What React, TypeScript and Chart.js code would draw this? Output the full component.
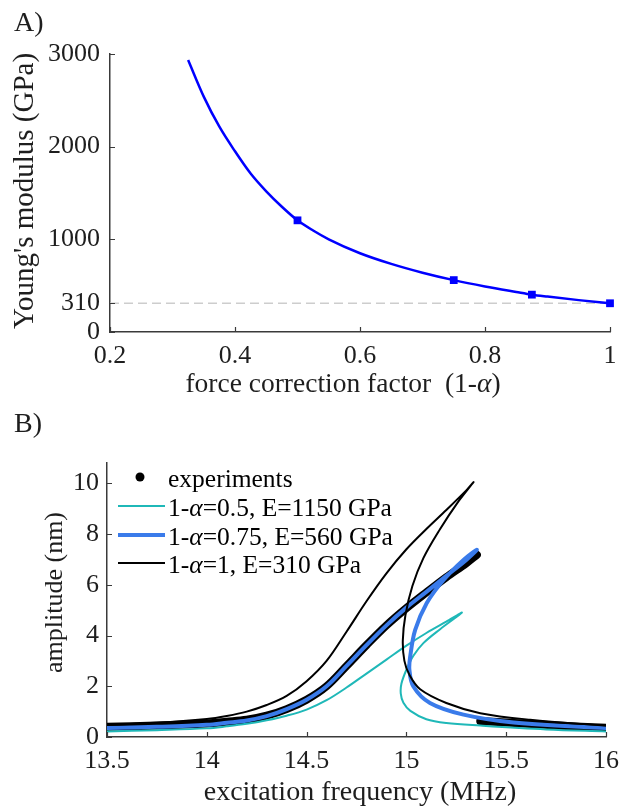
import React, { useEffect, useRef } from "react";
import { Chart, registerables } from "chart.js";

Chart.register(...registerables);

const FONT = '"Liberation Serif", "Times New Roman", serif';
const AXIS = "#3a3a3a";
const TXT = "#1e1e1e";

// ---------- Panel A data ----------
const factorCurve = [0.325, 0.35, 0.375, 0.4, 0.425, 0.45, 0.475, 0.5, 0.525, 0.55, 0.6, 0.65, 0.7, 0.75, 0.8, 0.85, 0.875, 0.9, 0.95, 1.0];
const modulusCurve = [2935, 2540, 2215, 1950, 1710, 1518, 1352, 1205, 1095, 1000, 850, 735, 640, 560, 492, 432, 403, 382, 344, 310];
const factorMarks = [0.5, 0.75, 0.875, 1.0];
const modulusMarks = [1205, 560, 403, 310];
const refModulus = 310;
const xTicksA = [0.2, 0.4, 0.6, 0.8, 1];
const yTicksA = [0, 310, 1000, 2000, 3000];

// ---------- Panel B data ----------
const freqExpUp = [13.5, 13.75, 14.0, 14.1, 14.2, 14.3, 14.4, 14.5, 14.6, 14.7, 14.8, 14.9, 15.0, 15.1, 15.2, 15.3, 15.353];
const ampExpUp = [0.4, 0.45, 0.53, 0.6, 0.68, 0.84, 1.1, 1.47, 2.0, 2.8, 3.62, 4.4, 5.08, 5.7, 6.3, 6.85, 7.18];
const freqExpDown = [15.37, 15.5, 15.75, 16.0];
const ampExpDown = [0.63, 0.57, 0.45, 0.36];

const freqE1150 = [13.5, 13.75, 14.0, 14.1, 14.2, 14.3, 14.4, 14.5, 14.6, 14.7, 14.8, 14.9, 15.0, 15.1, 15.2, 15.278, 15.169, 15.085, 15.035, 15.0, 14.975, 14.972, 14.985, 15.02, 15.1, 15.2, 15.37, 15.7, 16.0];
const ampE1150 = [0.22, 0.27, 0.34, 0.42, 0.52, 0.66, 0.84, 1.08, 1.45, 1.95, 2.5, 3.05, 3.6, 4.1, 4.55, 4.9, 4.25, 3.7, 3.2, 2.65, 2.1, 1.7, 1.35, 1.03, 0.7, 0.55, 0.45, 0.3, 0.22];

const freqE560 = [13.5, 13.75, 14.0, 14.1, 14.2, 14.3, 14.4, 14.5, 14.6, 14.7, 14.8, 14.9, 15.0, 15.1, 15.2, 15.3, 15.353, 15.286, 15.186, 15.102, 15.044, 15.019, 15.015, 15.035, 15.118, 15.286, 15.537, 16.0];
const ampE560 = [0.35, 0.4, 0.48, 0.56, 0.65, 0.82, 1.1, 1.47, 2.0, 2.8, 3.62, 4.4, 5.1, 5.72, 6.35, 6.98, 7.38, 6.98, 6.19, 5.28, 4.22, 3.17, 2.65, 1.99, 1.34, 0.88, 0.57, 0.35];

const freqE310 = [13.5, 13.75, 14.0, 14.1, 14.2, 14.3, 14.4, 14.5, 14.6, 14.7, 14.8, 14.9, 15.0, 15.1, 15.2, 15.3, 15.336, 15.253, 15.169, 15.085, 15.03, 14.995, 14.982, 14.99, 15.015, 15.069, 15.2, 15.37, 15.62, 16.0];
const ampE310 = [0.48, 0.56, 0.71, 0.83, 1.0, 1.26, 1.62, 2.2, 3.0, 4.15, 5.35, 6.45, 7.4, 8.2, 8.95, 9.72, 10.04, 9.2, 8.2, 7.05, 5.95, 4.8, 3.8, 3.0, 2.45, 1.88, 1.34, 0.94, 0.68, 0.44];

const xTicksB = [13.5, 14, 14.5, 15, 15.5, 16];
const yTicksB = [0, 2, 4, 6, 8, 10];

const legendB = [
  { kind: "dot", color: "#000000", width: 0, parts: [["experiments", false]] },
  { kind: "line", color: "#1fb8b8", width: 2, parts: [["1-", false], ["\u03b1", true], ["=0.5, E=1150 GPa", false]] },
  { kind: "line", color: "#3a7bea", width: 4, parts: [["1-", false], ["\u03b1", true], ["=0.75, E=560 GPa", false]] },
  { kind: "line", color: "#000000", width: 2, parts: [["1-", false], ["\u03b1", true], ["=1, E=310 GPa", false]] },
];

const pts = (xs: number[], ys: number[]) => xs.map((x, i) => ({ x, y: ys[i] }));

function richWidth(ctx: CanvasRenderingContext2D, parts: any[], size: number) {
  let w = 0;
  for (const [t, it] of parts) {
    ctx.font = `${it ? "italic " : ""}${size}px ${FONT}`;
    w += ctx.measureText(t).width;
  }
  return w;
}
function drawRich(ctx: CanvasRenderingContext2D, parts: any[], x: number, y: number, size: number) {
  let cx = x;
  for (const [t, it] of parts) {
    ctx.font = `${it ? "italic " : ""}${size}px ${FONT}`;
    ctx.fillText(t, cx, y);
    cx += ctx.measureText(t).width;
  }
}

function drawInwardTicks(chart: any) {
  const ctx = chart.ctx;
  const { left, bottom } = chart.chartArea;
  ctx.save();
  ctx.strokeStyle = AXIS;
  ctx.lineWidth = 1.2;
  const xs = chart.scales.x;
  const ys = chart.scales.y;
  ctx.beginPath();
  for (const t of xs.ticks) {
    const p = Math.round(xs.getPixelForValue(t.value)) + 0.5;
    ctx.moveTo(p, bottom);
    ctx.lineTo(p, bottom - 5);
  }
  for (const t of ys.ticks) {
    const p = Math.round(ys.getPixelForValue(t.value)) + 0.5;
    ctx.moveTo(left, p);
    ctx.lineTo(left + 5, p);
  }
  ctx.stroke();
  ctx.restore();
}

const panelAPlugin = {
  id: "panelA",
  afterDraw(chart: any) {
    const ctx = chart.ctx as CanvasRenderingContext2D;
    drawInwardTicks(chart);
    ctx.save();
    ctx.fillStyle = TXT;
    ctx.textBaseline = "alphabetic";
    ctx.textAlign = "left";
    ctx.font = `28px ${FONT}`;
    ctx.fillText("A)", 14, 31);
    const xt = [["force correction factor  (1-", false], ["\u03b1", true], [")", false]];
    const w = richWidth(ctx, xt, 27.5);
    drawRich(ctx, xt, 343 - w / 2, 392, 27.5);
    ctx.translate(33, 191);
    ctx.rotate(-Math.PI / 2);
    ctx.textAlign = "center";
    ctx.font = `29px ${FONT}`;
    ctx.fillText("Young's modulus (GPa)", 0, 0);
    ctx.restore();
  },
};

const panelBPlugin = {
  id: "panelB",
  afterDraw(chart: any) {
    const ctx = chart.ctx as CanvasRenderingContext2D;
    drawInwardTicks(chart);
    ctx.save();
    ctx.fillStyle = TXT;
    ctx.textBaseline = "alphabetic";
    ctx.textAlign = "left";
    ctx.font = `28px ${FONT}`;
    ctx.fillText("B)", 14, 32);
    // legend
    const rowY = [77, 106, 135, 163];
    legendB.forEach((e, i) => {
      const y = rowY[i];
      if (e.kind === "dot") {
        ctx.beginPath();
        ctx.fillStyle = e.color;
        ctx.arc(140, y, 4.5, 0, Math.PI * 2);
        ctx.fill();
      } else {
        ctx.beginPath();
        ctx.strokeStyle = e.color;
        ctx.lineWidth = e.width;
        ctx.moveTo(118, y);
        ctx.lineTo(165, y);
        ctx.stroke();
      }
      ctx.fillStyle = "#000";
      drawRich(ctx, e.parts, 168, y + 9.5, 25.5);
    });
    ctx.fillStyle = TXT;
    ctx.font = `28px ${FONT}`;
    ctx.textAlign = "center";
    ctx.fillText("excitation frequency (MHz)", 360, 400);
    ctx.translate(62, 192.5);
    ctx.rotate(-Math.PI / 2);
    ctx.font = `26px ${FONT}`;
    ctx.fillText("amplitude (nm)", 0, 0);
    ctx.restore();
  },
};

function axisCommon(tickVals: number[], size: { w?: number; h?: number }, pad: number) {
  return {
    type: "linear" as const,
    afterBuildTicks: (s: any) => {
      s.ticks = tickVals.map((v) => ({ value: v }));
    },
    afterFit: (s: any) => {
      if (size.w !== undefined) s.width = size.w;
      if (size.h !== undefined) s.height = size.h;
    },
    grid: { display: false, drawTicks: false },
    border: { display: true, color: AXIS, width: 1.5 },
    ticks: {
      font: { family: FONT, size: 26 },
      color: TXT,
      padding: pad,
      maxRotation: 0,
      autoSkip: false,
      callback: (v: any) => String(v),
    },
  };
}

export default function App() {
  const refA = useRef<HTMLCanvasElement>(null);
  const refB = useRef<HTMLCanvasElement>(null);

  useEffect(() => {
    const chartA = new Chart(refA.current!, {
      type: "scatter",
      data: {
        datasets: [
          {
            label: "fit",
            data: pts(factorCurve, modulusCurve),
            showLine: true,
            borderColor: "#0000ff",
            borderWidth: 2.5,
            pointRadius: 0,
            cubicInterpolationMode: "monotone",
            order: 2,
          } as any,
          {
            label: "values",
            data: pts(factorMarks, modulusMarks),
            showLine: false,
            pointStyle: "rect",
            pointRadius: 5.5,
            backgroundColor: "#0000ff",
            borderColor: "#0000ff",
            borderWidth: 0,
            clip: false,
            order: 1,
          } as any,
          {
            label: "reference",
            data: pts([0.2, 1], [refModulus, refModulus]),
            showLine: true,
            borderColor: "#cdcdcd",
            borderDash: [9, 5],
            borderWidth: 1.5,
            pointRadius: 0,
            order: 3,
          } as any,
        ],
      },
      options: {
        animation: false,
        responsive: false,
        events: [],
        layout: { padding: { top: 54, right: 19, left: 0, bottom: 0 } },
        plugins: { legend: { display: false }, tooltip: { enabled: false } },
        scales: {
          x: { ...axisCommon(xTicksA, { h: 68 }, 9), min: 0.2, max: 1 },
          y: { ...axisCommon(yTicksA, { w: 110 }, 10), min: 0, max: 3000 },
        } as any,
      },
      plugins: [panelAPlugin],
    });

    const lineDs = (label: string, xs: number[], ys: number[], color: string, width: number, order: number) =>
      ({
        label,
        data: pts(xs, ys),
        showLine: true,
        borderColor: color,
        backgroundColor: color,
        borderWidth: width,
        pointRadius: 0,
        tension: 0.35,
        borderCapStyle: "round",
        borderJoinStyle: "round",
        order,
      } as any);

    const chartB = new Chart(refB.current!, {
      type: "scatter",
      data: {
        datasets: [
          lineDs("experiments", freqExpUp, ampExpUp, "#000000", 8, 5),
          lineDs("experiments (down)", freqExpDown, ampExpDown, "#000000", 8, 5),
          lineDs("1-\u03b1=0.5, E=1150 GPa", freqE1150, ampE1150, "#1fb8b8", 2, 3),
          lineDs("1-\u03b1=0.75, E=560 GPa", freqE560, ampE560, "#3a7bea", 4, 2),
          lineDs("1-\u03b1=1, E=310 GPa", freqE310, ampE310, "#000000", 2, 1),
        ],
      },
      options: {
        animation: false,
        responsive: false,
        events: [],
        layout: { padding: { top: 63, right: 23, left: 0, bottom: 0 } },
        plugins: { legend: { display: false }, tooltip: { enabled: false } },
        scales: {
          x: { ...axisCommon(xTicksB, { h: 73 }, 9), min: 13.5, max: 16 },
          y: { ...axisCommon(yTicksB, { w: 107 }, 8), min: 0, max: 10.8 },
        } as any,
      },
      plugins: [panelBPlugin],
    });

    return () => {
      chartA.destroy();
      chartB.destroy();
    };
  }, []);

  return (
    <div style={{ position: "absolute", left: 0, top: 0, width: 629, height: 810, background: "#ffffff" }}>
      <canvas ref={refA} width={629} height={400} style={{ position: "absolute", left: 0, top: 0, display: "block" }} />
      <canvas ref={refB} width={629} height={410} style={{ position: "absolute", left: 0, top: 400, display: "block" }} />
    </div>
  );
}
